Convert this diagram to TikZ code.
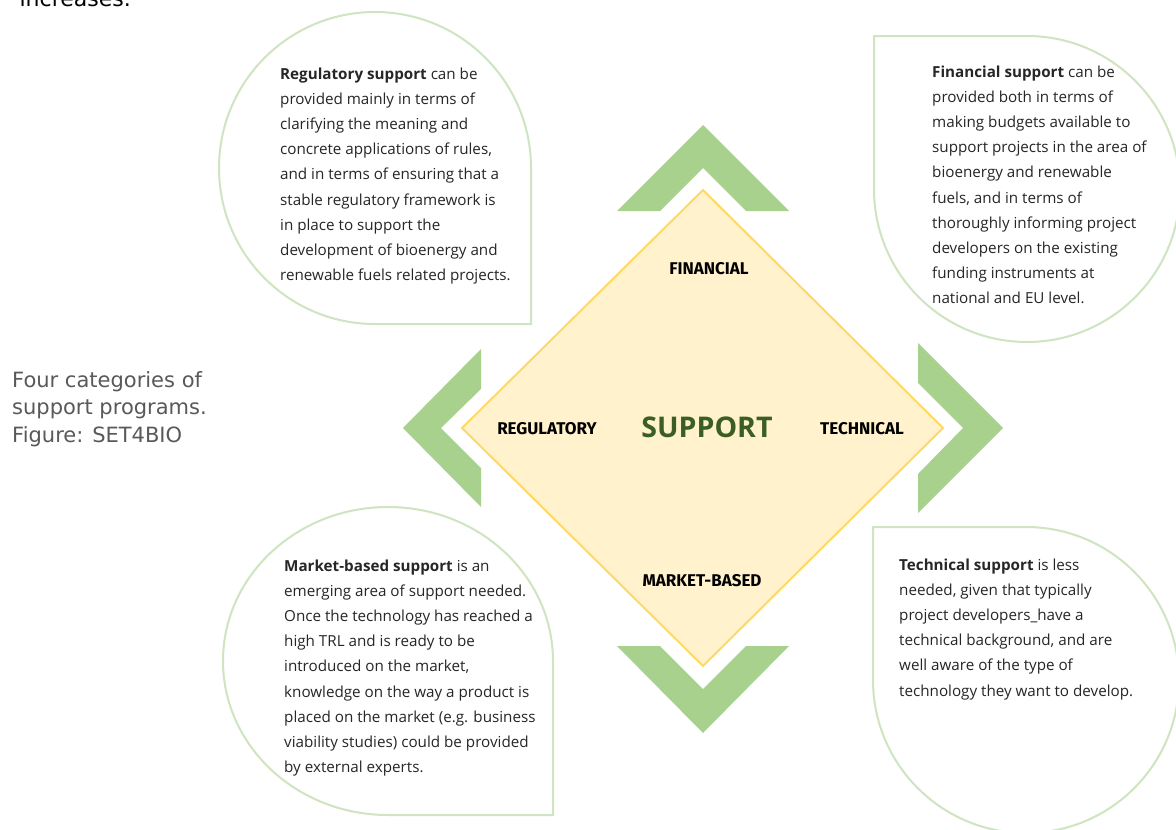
\documentclass[tikz,border=0pt]{standalone}
\usepackage{fontspec}
\setmainfont{Open Sans}
\newfontfamily\labelfont{Fira Sans}
\newfontfamily\capfont{DejaVu Sans}
\definecolor{bubblegreen}{HTML}{CFE4C0}
\definecolor{chevgreen}{HTML}{A9D18E}
\definecolor{diamfill}{HTML}{FFF2CC}
\definecolor{diamline}{HTML}{FFD966}
\definecolor{suppgreen}{HTML}{3B5E24}
\definecolor{bodygray}{HTML}{262626}
\definecolor{capgray}{HTML}{595959}
\tikzset{
  bubble/.style={draw=bubblegreen, line width=2pt, line join=miter},
  chev/.style={fill=chevgreen},
  diam/.style={fill=diamfill, draw=diamline, line width=2pt, line join=miter},
  bodytext/.style={anchor=north west, inner sep=0pt, align=left, text=bodygray,
    font=\fontsize{15.2}{25.2}\selectfont},
  catlabel/.style={inner sep=0pt, text=black, font=\labelfont\bfseries\fontsize{17}{19}\selectfont},
  captext/.style={anchor=north west, inner sep=0pt, align=left, text=capgray,
    font=\capfont\fontsize{21}{27.5}\selectfont}
}
\begin{document}
\begin{tikzpicture}[x=1pt,y=-1pt]
\fill[white] (0,0) rectangle (1176,830);
\clip (0,0) rectangle (1176,830);
% partial text at the top edge
\node[anchor=base east, inner sep=0pt, font=\capfont\fontsize{22}{24}\selectfont] (topcut) at (131,6) {increases.};
% bubbles
\draw[bubble] (531,324) -- (375,324) arc[start angle=90, end angle=360, radius=156] -- cycle;
\draw[bubble] (874,36) -- (1027,36) arc[start angle=270, end angle=540, radius=153] -- cycle;
\draw[bubble] (553,815) -- (553,661) arc[start angle=0, end angle=-270, x radius=165, y radius=154] -- cycle;
\draw[bubble] (873,527) -- (873,680) arc[start angle=180, end angle=-90, radius=153] -- cycle;
% chevrons
\fill[chev] (617,211) -- (703,125) -- (789,211) -- (746,211) -- (703,168) -- (660,211) -- cycle;
\fill[chev] (617,646) -- (703,733) -- (789,646) -- (746,646) -- (703,689) -- (660,646) -- cycle;
\fill[chev] (481,349) -- (403,428) -- (481,507) -- (481,468) -- (441,428) -- (481,389) -- cycle;
\fill[chev] (918,343) -- (1003,428) -- (918,513) -- (918,474) -- (963,428) -- (918,383) -- cycle;
% diamond
\draw[diam] (703,190) -- (943,428) -- (703,666) -- (462,428) -- cycle;
% labels
\node[catlabel] (fin) at (709,269) {FINANCIAL};
\node[catlabel] (reg) at (547,429) {REGULATORY};
\node[catlabel] (tec) at (862,429) {TECHNICAL};
\node[catlabel] (mkt) at (702,581) {MARKET-BASED};
\node[inner sep=0pt, text=suppgreen, font=\bfseries\fontsize{28.5}{32}\selectfont] (sup) at (707,427) {SUPPORT};
% bubble texts
\node[bodytext] (regtxt) at (280,67.3) {\textbf{Regulatory support} can be\\
provided mainly in terms of\\
clarifying the meaning and\\
concrete applications of rules,\\
and in terms of ensuring that a\\
stable regulatory framework is\\
in place to support the\\
development of bioenergy and\\
renewable fuels related projects.};
\node[bodytext] (fintxt) at (932,65.3) {\textbf{Financial support} can be\\
provided both in terms of\\
making budgets available to\\
support projects in the area of\\
bioenergy and renewable\\
fuels, and in terms of\\
thoroughly informing project\\
developers on the existing\\
funding instruments at\\
national and EU level.};
\node[bodytext] (mkttxt) at (284,559.3) {\textbf{Market-based support} is an\\
emerging area of support needed.\\
Once the technology has reached a\\
high TRL and is ready to be\\
introduced on the market,\\
knowledge on the way a product is\\
placed on the market (e.g. business\\
viability studies) could be provided\\
by external experts.};
\node[bodytext] (tectxt) at (899,558.3) {\textbf{Technical support} is less\\
needed, given that typically\\
project developers\_have a\\
technical background, and are\\
well aware of the type of\\
technology they want to develop.};
% caption
\node[captext] (cap) at (12,371) {Four categories of\\support programs.\\Figure: SET4BIO};
\end{tikzpicture}
\end{document}
